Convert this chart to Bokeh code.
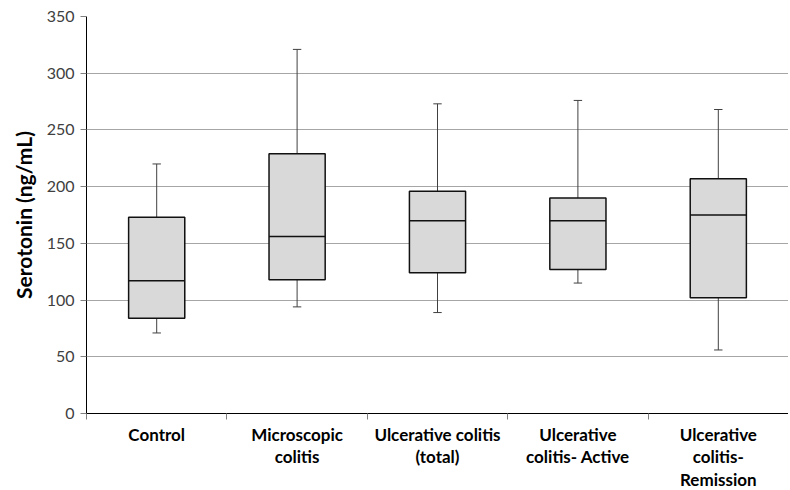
from bokeh.plotting import figure
from bokeh.models import FixedTicker, Range1d, ColumnDataSource
from bokeh.embed import file_html
from bokeh.resources import INLINE

categories = ["Control", "Microscopic\ncolitis", "Ulcerative colitis\n(total)",
              "Ulcerative\ncolitis- Active", "Ulcerative\ncolitis-\nRemission"]
whisker_min = [71, 94, 89, 115, 56]
q1 = [84, 118, 124, 127, 102]
median = [117, 156, 170, 170, 175]
q3 = [173, 229, 196, 190, 207]
whisker_max = [220, 321, 273, 276, 268]
y_ticks = [0, 50, 100, 150, 200, 250, 300, 350]

xs = [i + 0.5 for i in range(len(categories))]
box_w = 0.4
cap_w = 0.06

src = ColumnDataSource(dict(
    x=xs, q1=q1, q3=q3, med=median, lo=whisker_min, hi=whisker_max,
    bl=[x - box_w / 2 for x in xs], br=[x + box_w / 2 for x in xs],
    cl=[x - cap_w / 2 for x in xs], cr=[x + cap_w / 2 for x in xs],
))

p = figure(frame_width=702, frame_height=397, output_backend="svg", toolbar_location=None,
           x_range=Range1d(0, len(categories)), y_range=Range1d(0, 350),
           min_border_left=86, min_border_top=16, min_border_bottom=0, min_border_right=0)
p.outline_line_color = None
p.background_fill_color = "white"

# whiskers
p.segment(x0="x", y0="q3", x1="x", y1="hi", source=src, line_color="#404040", line_width=1)
p.segment(x0="x", y0="lo", x1="x", y1="q1", source=src, line_color="#404040", line_width=1)
p.segment(x0="cl", y0="hi", x1="cr", y1="hi", source=src, line_color="#404040", line_width=1)
p.segment(x0="cl", y0="lo", x1="cr", y1="lo", source=src, line_color="#404040", line_width=1)
# boxes
p.vbar(x="x", width=box_w, bottom="q1", top="q3", source=src,
       fill_color="#d9d9d9", line_color="#111111", line_width=1.5)
p.segment(x0="bl", y0="med", x1="br", y1="med", source=src, line_color="#111111", line_width=1.5)

# y axis
p.yaxis.ticker = FixedTicker(ticks=y_ticks)
p.yaxis.axis_line_color = "black"
p.yaxis.major_tick_out = 6
p.yaxis.major_tick_in = 0
p.yaxis.major_tick_line_color = "#808080"
p.yaxis.minor_tick_line_color = None
p.yaxis.major_label_text_font = "Lato"
p.yaxis.major_label_text_font_size = "16px"
p.yaxis.major_label_text_color = "#404040"
p.yaxis.major_label_standoff = 6
p.yaxis.axis_label = "Serotonin (ng/mL)"
p.yaxis.axis_label_text_font = "Lato"
p.yaxis.axis_label_text_font_style = "bold"
p.yaxis.axis_label_text_font_size = "21px"
p.yaxis.axis_label_text_color = "black"
p.yaxis.axis_label_standoff = 8

# x axis
p.xaxis.ticker = FixedTicker(ticks=xs, minor_ticks=list(range(len(categories) + 1)))
p.xaxis.major_label_overrides = {x: c for x, c in zip(xs, categories)}
p.xaxis.major_tick_out = 0
p.xaxis.major_tick_in = 0
p.xaxis.minor_tick_out = 6
p.xaxis.minor_tick_in = 0
p.xaxis.minor_tick_line_color = "#808080"
p.xaxis.axis_line_color = "black"
p.xaxis.major_label_text_font = "Lato"
p.xaxis.major_label_text_font_style = "bold"
p.xaxis.major_label_text_font_size = "17px"
p.xaxis.major_label_text_line_height = 1.08
p.xaxis.major_label_text_color = "black"
p.xaxis.major_label_standoff = 4

p.xgrid.grid_line_color = None
p.ygrid.grid_line_color = "#a6a6a6"
p.ygrid.grid_line_width = 1

open("out.html", "w").write(file_html(p, INLINE))
